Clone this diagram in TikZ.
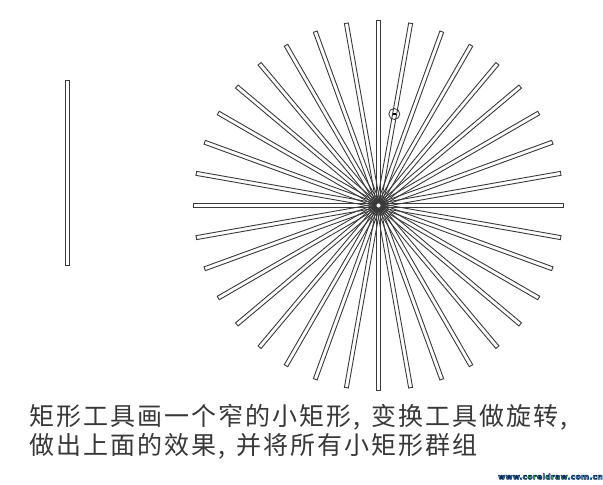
\documentclass[tikz,border=0pt]{standalone}
\usepackage{fontspec}
\newfontfamily\cjk[LetterSpace=8]{Noto Sans CJK SC}
\newfontfamily\wmfont[LetterSpace=4]{DejaVu Sans}
\usetikzlibrary{positioning}
\definecolor{edge}{HTML}{3A3A3A}
\definecolor{wmblue}{HTML}{5FB8F0}
\definecolor{wmgreen}{HTML}{4FD04A}
\tikzset{
  bar/.style={draw=edge, line width=0.9pt},
  caption/.style={inner sep=0pt, anchor=base west, text=black!78, font=\cjk\fontsize{25pt}{29pt}\selectfont},
  wmtext/.style={inner sep=0pt, font=\wmfont\bfseries\fontsize{7.6pt}{8pt}\selectfont},
}
% one narrow rectangle turned about the centre of the star
\def\thinbar(#1,#2,#3){
  \begin{scope}[shift={(#1,#2)}, rotate=#3]
    \draw[bar] (-2,0) rectangle (2,185);
  \end{scope}
}
% navy outline round the watermark letters
\def\wmstroke{\special{pdf:literal direct 0.6 w 0.043 0.165 0.36 RG 2 Tr}}
\def\wmplain{\special{pdf:literal direct 0 Tr}}
\def\wmline{\color{wmblue}\wmstroke www.{\color{wmgreen}\wmstroke coreldraw}\wmstroke .com.cn\wmplain}

\begin{document}
\begin{tikzpicture}[x=1pt, y=-1pt]
\useasboundingbox (0,0) rectangle (603,485);
\fill[white] (0,0) rectangle (603,485);
% the single rectangle
\draw[bar] (65.5,80) rectangle (69.5,265);
% rotated copies
\foreach \ang in {0,10,...,350}{
  \thinbar(378.5,205.5,\ang)
}
\coordinate (hub) at (378.5,205.5);
\fill[white] (hub) circle (2.2);
\draw[edge, line width=2.6pt] (hub) circle (3.8);
% rotation centre mark
\node[draw=edge, circle, line width=0.8pt, minimum size=11pt, inner sep=0pt] (pivot) at (394.3,114) {};
\fill[black] ([xshift=-1.3pt,yshift=-1.3pt]pivot.center) rectangle ([xshift=1.3pt,yshift=1.3pt]pivot.center);
% text
\node[caption] (line1) at (29,425) {矩形工具画一个窄的小矩形,\hspace{0.45em}变换工具做旋转,};
\node[caption] (line2) at (29,454) {做出上面的效果,\hspace{0.45em}并将所有小矩形群组};
% watermark
\node[wmtext] (wm) at (550.5,476.5) {\wmline};
\end{tikzpicture}
\end{document}
